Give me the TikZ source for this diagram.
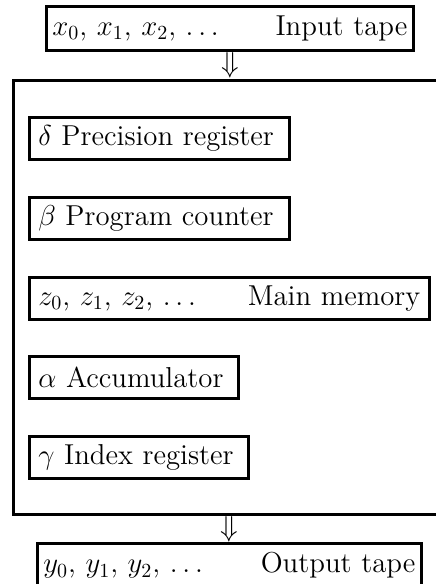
\documentclass[tikz,border=0pt]{standalone}
\usetikzlibrary{calc}
\begin{document}
% one coordinate unit = 0.5pt; the page is 217.5pt x 292pt
\begin{tikzpicture}[x=0.5pt,y=-0.5pt,
  every node/.style={font=\Large},
  tapebox/.style={draw, line width=1.35pt, inner xsep=3pt, inner ysep=0pt,
                  minimum height=22pt, align=left, anchor=north west},
  regbox/.style={draw, line width=1.3pt, inner xsep=4.5pt, inner ysep=0pt,
                 minimum height=21pt, align=left, anchor=north west},
  cpubox/.style={draw, line width=1.5pt, inner sep=0pt, anchor=north west},
  flow/.style={inner sep=0pt}]
\useasboundingbox (0,0) rectangle (435,584);

% input tape
\node[tapebox, text width=177.5pt] (in) at (45,5)
  {$x_0$, $x_1$, $x_2$, $\ldots$\hfill Input tape};

% machine body (runs off the right edge)
\node[cpubox, minimum width=216.5pt, minimum height=217pt] (cpu) at (12,79) {};

% registers and memory
\node[regbox, text width=121pt]  (prec) at (28,116) {$\delta$ Precision register};
\node[regbox, text width=121pt]  (pc)   at (28,196) {$\beta$ Program counter};
\node[regbox, text width=191pt]  (mem)  at (28,276)
  {$z_0$, $z_1$, $z_2$, $\ldots$\hfill Main memory};
\node[regbox, text width=95.5pt] (acc)  at (28,355) {$\alpha$ Accumulator};
\node[regbox, text width=100.5pt] (idx) at (28,435) {$\gamma$ Index register};

% output tape (runs off the bottom edge)
\node[tapebox, text width=186pt] (out) at (36,542)
  {$y_0$, $y_1$, $y_2$, $\ldots$\hfill Output tape};

% data flow
\path (in.south) -- node[flow] (a1) {$\Downarrow$} (cpu.north);
\path (cpu.south) -- node[flow] (a2) {$\Downarrow$} (out.north);
\end{tikzpicture}
\end{document}
